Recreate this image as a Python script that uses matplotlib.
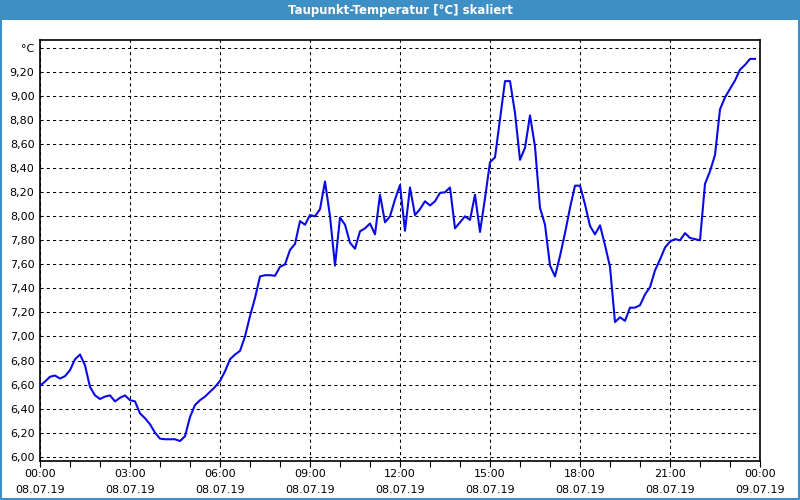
import numpy as np
import matplotlib
matplotlib.use('Agg')
import matplotlib.pyplot as plt
from matplotlib.patches import Rectangle

# dew point, one reading every 10 minutes from 08.07.19 00:00
taupunkt = [
    6.59, 6.625, 6.665, 6.675, 6.65, 6.67, 6.72, 6.81, 6.85, 6.76,
    6.58, 6.51, 6.48, 6.50, 6.51, 6.46, 6.49, 6.51, 6.47, 6.46,
    6.36, 6.32, 6.27, 6.20, 6.15, 6.145, 6.145, 6.145, 6.13, 6.17,
    6.33, 6.43, 6.47, 6.50, 6.54, 6.58, 6.63, 6.71, 6.81, 6.85,
    6.88, 7.00, 7.17, 7.32, 7.50, 7.51, 7.51, 7.505, 7.58, 7.60,
    7.72, 7.77, 7.96, 7.93, 8.01, 8.00, 8.06, 8.29, 8.00, 7.59,
    7.99, 7.93, 7.78, 7.73, 7.875, 7.90, 7.94, 7.85, 8.18, 7.95,
    8.00, 8.14, 8.26, 7.88, 8.24, 8.01, 8.06, 8.125, 8.09, 8.125,
    8.195, 8.20, 8.24, 7.90, 7.95, 8.00, 7.97, 8.18, 7.87, 8.15,
    8.45, 8.49, 8.81, 9.125, 9.125, 8.86, 8.47, 8.57, 8.84, 8.58,
    8.07, 7.93, 7.59, 7.50, 7.67, 7.86, 8.07, 8.255, 8.255, 8.10,
    7.92, 7.85, 7.925, 7.76, 7.58, 7.12, 7.16, 7.13, 7.24, 7.24,
    7.26, 7.35, 7.41, 7.55, 7.64, 7.74, 7.79, 7.81, 7.80, 7.86,
    7.82, 7.81, 7.80, 8.27, 8.375, 8.51, 8.89, 8.99, 9.06, 9.13,
    9.22, 9.26, 9.31, 9.31,
]
stunden = np.arange(len(taupunkt)) * 10 / 60.0

x_ticks = [0, 3, 6, 9, 12, 15, 18, 21, 24]
x_labels = ["00:00\n08.07.19", "03:00\n08.07.19", "06:00\n08.07.19",
            "09:00\n08.07.19", "12:00\n08.07.19", "15:00\n08.07.19",
            "18:00\n08.07.19", "21:00\n08.07.19", "00:00\n09.07.19"]
y_ticks = [6.0, 6.2, 6.4, 6.6, 6.8, 7.0, 7.2, 7.4, 7.6, 7.8,
           8.0, 8.2, 8.4, 8.6, 8.8, 9.0, 9.2, 9.4]
titel = "Taupunkt-Temperatur [°C] skaliert"

blau = "#3d8fc4"

fig = plt.figure(figsize=(8, 5), dpi=100, facecolor="white")

# title bar and window border
fig.patches.append(Rectangle((0, 0.96), 1, 0.04, transform=fig.transFigure,
                             facecolor=blau, edgecolor="none", zorder=0))
fig.patches.append(Rectangle((0.001, 0.002), 0.998, 0.97, transform=fig.transFigure,
                             facecolor="none", edgecolor=blau, linewidth=1.5, zorder=0))
fig.text(0.5, 0.979, titel, color="white", fontsize=8.5, fontweight="bold",
         ha="center", va="center", family="DejaVu Sans")

ax = fig.add_axes([0.05, 0.078, 0.90, 0.842])
ax.plot(stunden, taupunkt, color="#0a0ae6", linewidth=1.5, zorder=3)

ax.set_xlim(0, 24)
ax.set_ylim(5.964, 9.467)

ax.set_xticks(x_ticks)
ax.set_xticklabels(x_labels, fontsize=8, linespacing=1.65)
ax.set_xticks(np.arange(0, 25, 1), minor=True)
ax.tick_params(axis="x", which="both", direction="out", length=4, width=0.8, pad=2)

ax.set_yticks(y_ticks)
ylabels = ["%.2f" % v for v in y_ticks]
ylabels = [s.replace(".", ",") for s in ylabels]
ylabels[-1] = "°C"
ax.set_yticklabels(ylabels, fontsize=8)
ax.tick_params(axis="y", length=0, pad=4)

ax.grid(True, which="major", color="black", linestyle=(0, (3, 3)), linewidth=0.75)
for s in ax.spines.values():
    s.set_linewidth(1.2)
    s.set_color("black")

fig.savefig("out.png", dpi=100, facecolor="white")
